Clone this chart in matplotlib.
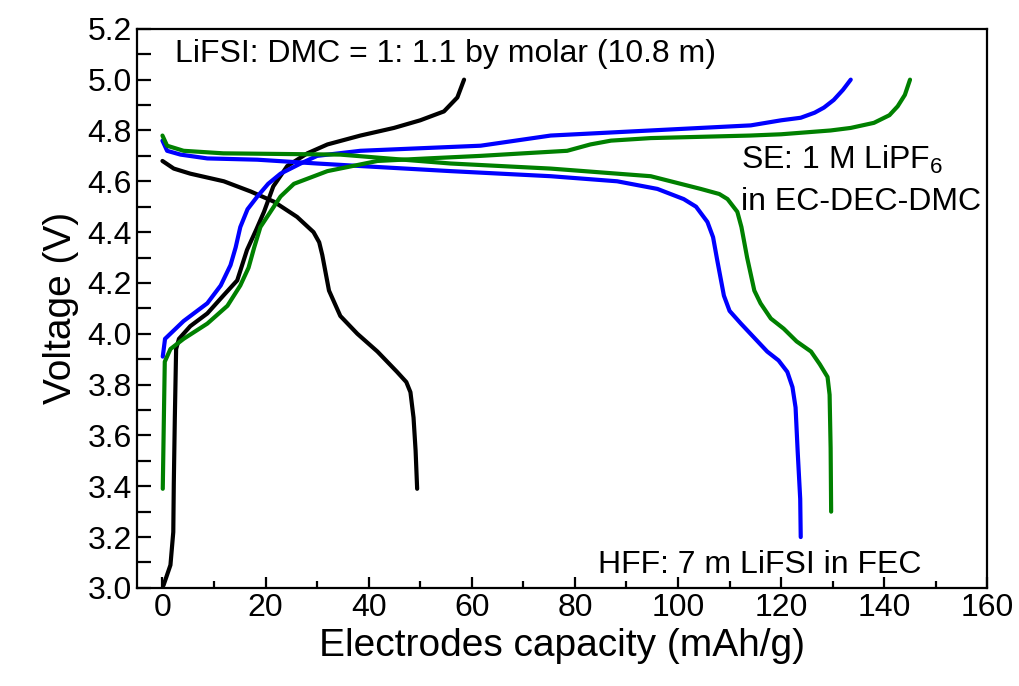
import numpy as np
import matplotlib
matplotlib.use("Agg")
import matplotlib.pyplot as plt
from matplotlib.ticker import MultipleLocator, FormatStrFormatter

plt.rcParams["font.family"] = ["Liberation Sans", "DejaVu Sans"]
plt.rcParams["mathtext.fontset"] = "custom"
plt.rcParams["mathtext.rm"] = "Liberation Sans"
plt.rcParams["mathtext.it"] = "Liberation Sans"

# LiFSI:DMC (black)
blk_chg_cap = [0.2, 1.55, 2.1, 2.2, 2.4, 2.65, 3.2, 5.4, 8.7, 11.8, 14.5, 16.4,
               18.2, 19.7, 21.5, 24.2, 28.1, 32.0, 38.4, 44.9, 50.0, 54.6, 57.2, 58.5]
blk_chg_v = [3.01, 3.09, 3.22, 3.41, 3.67, 3.94, 3.98, 4.03, 4.08, 4.15, 4.21, 4.33,
             4.41, 4.48, 4.58, 4.66, 4.71, 4.745, 4.78, 4.81, 4.84, 4.875, 4.93, 5.0]
blk_dis_cap = [0.0, 2.2, 5.4, 11.9, 17.1, 21.6, 26.1, 29.3, 30.4, 31.0, 32.3, 34.5,
               37.8, 41.7, 45.5, 47.3, 48.1, 48.7, 49.1, 49.4]
blk_dis_v = [4.68, 4.65, 4.63, 4.60, 4.56, 4.52, 4.46, 4.40, 4.36, 4.31, 4.17, 4.07,
             4.00, 3.93, 3.85, 3.81, 3.77, 3.67, 3.54, 3.39]

# SE (blue)
blu_chg_cap = [0.06, 0.5, 4.1, 8.7, 11.3, 13.2, 14.2, 15.1, 16.5, 18.4, 20.5, 22.9,
               26.8, 30.0, 38.4, 50.0, 61.7, 75.3, 94.7, 114.1, 120.0, 123.8,
               126.5, 128.3, 130.2, 132.0, 133.5]
blu_chg_v = [3.91, 3.98, 4.05, 4.12, 4.19, 4.27, 4.34, 4.42, 4.49, 4.54, 4.59, 4.63,
             4.67, 4.70, 4.72, 4.73, 4.74, 4.78, 4.80, 4.82, 4.84, 4.85,
             4.87, 4.89, 4.92, 4.96, 5.0]
blu_dis_cap = [0.0, 0.9, 3.5, 8.7, 18.4, 30.0, 38.4, 55.9, 75.3, 88.2, 96.0, 101.1,
               103.5, 105.7, 106.8, 107.6, 108.9, 110.0, 112.2, 117.3, 119.5, 121.2,
               122.2, 122.8, 123.2, 123.7, 123.8]
blu_dis_v = [4.76, 4.72, 4.705, 4.69, 4.685, 4.67, 4.66, 4.64, 4.62, 4.60, 4.57, 4.53,
             4.50, 4.44, 4.38, 4.29, 4.15, 4.09, 4.04, 3.93, 3.895, 3.85,
             3.79, 3.71, 3.54, 3.35, 3.20]

# HFF (green)
grn_chg_cap = [0.06, 0.26, 0.45, 1.55, 4.1, 8.7, 12.6, 15.1, 16.7, 17.8, 19.0, 22.9,
               25.5, 28.1, 32.0, 41.7, 51.4, 61.7, 70.0, 78.5, 83.0, 87.0, 94.7,
               114.0, 120.0, 129.6, 133.5, 138.0, 141.0, 142.6, 144.0, 145.0]
grn_chg_v = [3.39, 3.65, 3.89, 3.94, 3.98, 4.04, 4.11, 4.19, 4.26, 4.34, 4.42, 4.54,
             4.59, 4.61, 4.64, 4.68, 4.69, 4.70, 4.71, 4.72, 4.745, 4.76, 4.77,
             4.78, 4.785, 4.80, 4.81, 4.83, 4.86, 4.895, 4.94, 5.0]
grn_dis_cap = [0.0, 0.9, 4.1, 11.8, 34.5, 55.9, 75.3, 94.7, 104.4, 108.0, 109.6,
               111.5, 112.3, 113.4, 114.8, 116.0, 118.0, 120.5, 123.0, 125.8, 127.5,
               129.0, 129.4, 129.6, 129.7]
grn_dis_v = [4.78, 4.74, 4.72, 4.71, 4.705, 4.67, 4.65, 4.62, 4.57, 4.55, 4.53,
             4.48, 4.42, 4.30, 4.17, 4.12, 4.06, 4.02, 3.97, 3.93, 3.88,
             3.83, 3.76, 3.55, 3.30]

fig = plt.figure(figsize=(10.2, 6.86), dpi=100)
ax = fig.add_axes([0.134, 0.143, 0.834, 0.815])

style = dict(lw=3.0, solid_joinstyle="round", solid_capstyle="round")
ax.plot(blk_chg_cap, blk_chg_v, color="black", **style)
ax.plot(blk_dis_cap, blk_dis_v, color="black", **style)
ax.plot(blu_chg_cap, blu_chg_v, color="#0000ff", **style)
ax.plot(blu_dis_cap, blu_dis_v, color="#0000ff", **style)
ax.plot(grn_chg_cap, grn_chg_v, color="#008000", **style)
ax.plot(grn_dis_cap, grn_dis_v, color="#008000", **style)

ax.set_xlim(-5, 160)
ax.set_ylim(3.0, 5.2)
ax.xaxis.set_major_locator(MultipleLocator(20))
ax.xaxis.set_minor_locator(MultipleLocator(10))
ax.yaxis.set_major_locator(MultipleLocator(0.2))
ax.yaxis.set_minor_locator(MultipleLocator(0.1))
ax.yaxis.set_major_formatter(FormatStrFormatter("%.1f"))
ax.tick_params(axis="both", which="both", direction="in", width=1.6,
               top=False, right=False, labelsize=23)
ax.tick_params(axis="y", which="both", length=10)
ax.tick_params(axis="x", which="major", length=8)
ax.tick_params(axis="x", which="minor", length=5)
for sp in ax.spines.values():
    sp.set_linewidth(1.6)

ax.set_xlabel("Electrodes capacity (mAh/g)", fontsize=28, labelpad=4)
ax.set_ylabel("Voltage (V)", fontsize=28, labelpad=6)

ax.text(2.5, 5.10, "LiFSI: DMC = 1: 1.1 by molar (10.8 m)", fontsize=23,
        ha="left", va="center")
ax.text(112.2, 4.685, "SE: 1 M LiPF$_6$", fontsize=23, ha="left", va="center")
ax.text(112.2, 4.52, "in EC-DEC-DMC", fontsize=23, ha="left", va="center")
ax.text(84.5, 3.09, "HFF: 7 m LiFSI in FEC", fontsize=23, ha="left", va="center")

fig.savefig("out.png", dpi=100)
